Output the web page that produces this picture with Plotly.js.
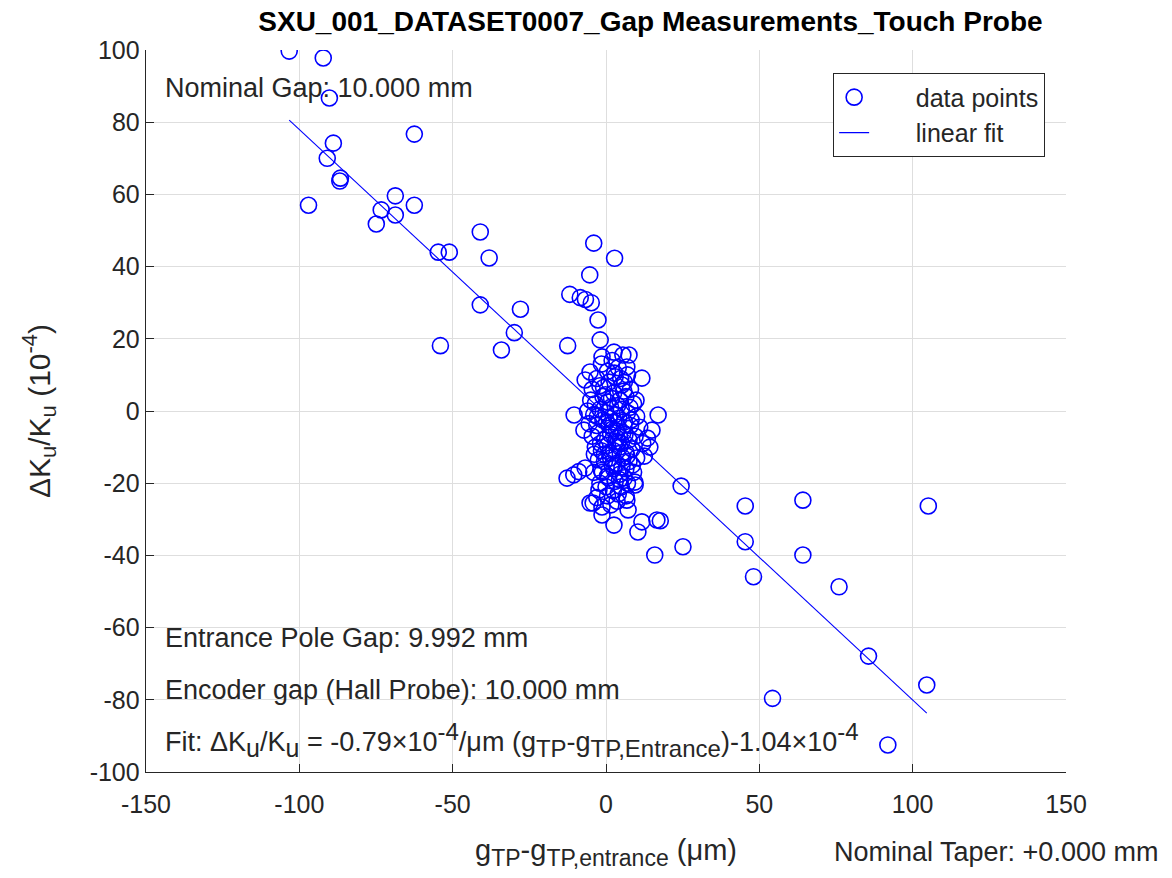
<!DOCTYPE html>
<html>
<head>
<meta charset="utf-8">
<script src="https://cdn.plot.ly/plotly-3.0.1.min.js"></script>
<style>html,body{margin:0;padding:0;background:#fff;}#chart{width:1172px;height:878px;}</style>
</head>
<body>
<div id="chart"></div>
<script>
// gap difference g_TP - g_TP,entrance (um)
const gapDiff = [
  -103.3, -92.2, -90.2, -88.9, -90.9, -86.6, -86.8, -97.0, -62.5, -68.7, -73.3, -74.9, -68.7, -62.5,
  -54.7, -51.1, -41.0, -38.1, -54.0, -41.0, -27.9, -29.9, -34.1, -12.5,
  -4.0, 2.8, -5.3, -11.8, -8.4, -6.7, -4.8, -2.6, -1.9,
  24.5, 45.4, 64.2, 105.1, 45.4, 25.1, 64.2, 48.1, 76.0, 85.6, 104.6, 54.3, 91.9,
  16.6, 17.7, 15.9,
  -1.3, 2.6, 7.5, 6.8, 11.7, -5.2, -6.8, 5.2, 9.8, 17.0, -10.4, -7.2, 15.0, 14.3,
  -12.7, -10.5, -8.9, -6.8, -4.2, -1.3, -1.3, 2.6, 7.2, 10.4, 11.7, 9.4, 6.8, -2.3, -5.2,
  -1.5, 0.5, 2.0, 4.0, 5.5, 7.0, -3.0, -4.5, -2.0, 1.0, 3.0, 6.0, 8.0,
  -5.0, -3.5, -1.0, 0.5, 2.5, 4.5, 6.5, 9.0, -6.0, -4.0, -2.0, 0.0, 1.5, 3.0, 5.0, 7.0, 10.0,
  -5.5, -3.0, -1.0, 1.0, 2.5, 4.0, 6.0, 8.0, 11.0,
  -4.5, -2.5, -0.5, 1.5, 3.5, 5.5, 7.5, 9.5,
  -3.5, -1.5, 0.5, 2.5, 4.5, 6.5, 8.5, 12.0,
  -2.5, -0.5, 1.5, 3.5, 5.5, 7.5, 10.0,
  -4.0, -1.5, 0.5, 2.5, 4.5, 6.5, 9.0,
  -2.0, 0.0, 3.0, 5.0, 7.0, 9.5,
  -3.0, 0.5, 4.0, 1.0, 3.5, 5.0, -0.5, 2.0, 6.0, 4.0,
  -0.8, 1.8, 3.8, 5.8, 7.8, -2.8, 0.2, 2.2, 4.2, 6.2, 8.2, -1.8, 1.2, 3.2, 5.2,
  -3.8, -0.2, 2.8, 4.8, 6.8, 0.8, 2.4, 4.4, 6.6, -1.2, 1.6, 3.6, 8.6, 12.5, 13.5
];
// relative K change dK_u/K_u (1e-4)
const dKK = [
  99.7, 97.8, 86.7, 74.2, 70.0, 64.5, 63.7, 57.0, 76.7, 59.6, 55.7, 51.8, 54.3, 57.0,
  44.0, 44.0, 49.6, 42.4, 18.1, 29.4, 28.2, 21.7, 16.9, 18.1,
  46.5, 42.3, 37.7, 32.3, 31.4, 30.9, 30.0, 25.2, 19.7,
  -20.8, -26.3, -24.7, -26.3, -36.2, -37.6, -39.9, -45.9, -48.7, -67.9, -75.9, -79.6, -92.5,
  -30.2, -30.4, -39.9,
  15.0, 16.3, 15.5, 12.2, 9.1, 10.8, 8.6, 7.2, 3.0, -1.1, -1.1, -5.3, -5.3, -10.0,
  -18.6, -17.7, -16.8, -15.8, -25.5, -26.6, -28.8, -31.6, -27.4, -33.5, -30.7, -19.7, -24.7, -21.9, -25.5,
  13.0, 11.0, 14.0, 12.0, 15.5, 10.0, 9.0, 6.0, 7.0, 8.0, 9.5, 8.0, 6.0,
  3.0, 2.0, 4.0, 2.5, 5.0, 3.0, 4.0, 2.0, 0.0, -1.0, 0.5, -0.5, 1.0, -1.0, 0.5, -0.5, -1.5,
  -3.5, -4.0, -2.5, -4.0, -3.0, -4.5, -3.0, -4.0, -4.5,
  -7.0, -6.0, -8.0, -6.5, -7.5, -6.0, -8.0, -7.0,
  -10.0, -11.0, -9.5, -11.0, -10.0, -11.5, -10.5, -9.0,
  -13.5, -14.0, -13.0, -14.5, -13.0, -14.0, -13.0,
  -17.0, -16.5, -18.0, -16.0, -17.5, -16.0, -17.0,
  -20.0, -21.0, -19.5, -21.0, -20.0, -20.5,
  -24.0, -23.5, -23.0, -2.0, -5.5, -9.0, -12.0, -15.0, -18.5, -8.5,
  6.5, 3.5, 1.5, 5.5, 1.0, -1.5, -3.0, -5.0, -2.0, -6.5, -2.5, -9.0, -11.5, -8.5, -15.5,
  -12.0, 4.5, 10.5, 9.0, -12.5, -18.5, -22.0, -19.0, -23.5, -17.0, -26.0, -25.0, -15.0, -12.5, -7.5
];
// linear fit endpoints
const fitX = [-103.3, 104.6];
const fitY = [80.6, -83.7];

const xTicks = [-150, -100, -50, 0, 50, 100, 150];
const yTicks = [-100, -80, -60, -40, -20, 0, 20, 40, 60, 80, 100];

const txt = '#262626';
const fnt = 'Liberation Sans, Arial, Helvetica, sans-serif';
const pad = '\u00a0\u00a0\u00a0\u00a0\u00a0\u00a0';

const traces = [
  {x: gapDiff, y: dKK, type: 'scatter', mode: 'markers', name: pad + 'data points',
   marker: {symbol: 'circle-open', size: 16, color: '#0000ff', line: {width: 1.6, color: '#0000ff'}}},
  {x: fitX, y: fitY, type: 'scatter', mode: 'lines', name: pad + 'linear fit',
   line: {color: '#0000ff', width: 1.1}}
];

const ann = (text, x, y, extra) => Object.assign({text, x, y, xref: 'paper', yref: 'paper',
  xanchor: 'left', yanchor: 'middle', showarrow: false, font: {family: fnt, size: 27, color: txt}}, extra || {});

const sb = (s, f) => '<sub><span style="font-size:' + (f || 22) + 'px">' + s + '</span></sub>';
const sp = (s, f) => '<sup><span style="font-size:' + (f || 22) + 'px">' + s + '</span></sup>';

const layout = {
  width: 1172, height: 878,
  margin: {l: 146, r: 106, t: 50, b: 106},
  paper_bgcolor: '#fff', plot_bgcolor: '#fff',
  font: {family: fnt, color: txt, size: 24},
  title: {text: '<b>SXU_001_DATASET0007_Gap Measurements_Touch Probe</b>', x: 0.555, xanchor: 'center',
          y: 0.976, yanchor: 'middle', font: {family: fnt, size: 28, color: '#000'}},
  xaxis: {range: [-150, 150], tickvals: xTicks, ticktext: xTicks.map(String),
          showgrid: true, gridcolor: '#dedede', zeroline: false,
          showline: true, linecolor: txt, linewidth: 1.3, mirror: false,
          ticks: 'inside', ticklen: 8, tickcolor: txt, tickfont: {size: 25, color: txt},
          ticklabelstandoff: 10,
          title: {text: 'g' + sb('TP', 23) + '-g' + sb('TP,entrance', 23) + ' (μm)', font: {size: 29, color: txt}, standoff: 22}},
  yaxis: {range: [-100, 100], tickvals: yTicks, ticktext: yTicks.map(String),
          showgrid: true, gridcolor: '#dedede', zeroline: false,
          showline: true, linecolor: txt, linewidth: 1.3, mirror: false,
          ticks: 'inside', ticklen: 8, tickcolor: txt, tickfont: {size: 25, color: txt},
          title: {text: 'ΔK' + sb('u') + '/K' + sb('u') + ' (10' + sp('-4') + ')', font: {size: 30, color: txt}, standoff: 30}},
  showlegend: true,
  legend: {x: 0.977, xanchor: 'right', y: 0.968, yanchor: 'top', bgcolor: '#fff',
           bordercolor: txt, borderwidth: 1.3, font: {size: 25, color: txt}, tracegroupgap: 0},
  annotations: [
    ann('Nominal Gap: 10.000 mm', 0.0185, 0.947),
    ann('Entrance Pole Gap: 9.992 mm', 0.0185, 0.1856),
    ann('Encoder gap (Hall Probe): 10.000 mm', 0.0185, 0.1136),
    ann('Fit: ΔK' + sb('u', 25) + '/K' + sb('u', 25) + ' = -0.79×10' + sp('-4', 24) + '/μm (g' + sb('TP', 24) + '-g' + sb('TP,Entrance', 24) + ')-1.04×10' + sp('-4', 24), 0.0185, 0.044),
    ann('Nominal Taper: +0.000 mm', 1.102, -0.1108, {xanchor: 'right'})
  ]
};

Plotly.newPlot('chart', traces, layout, {displayModeBar: false, staticPlot: true});
</script>
</body>
</html>
